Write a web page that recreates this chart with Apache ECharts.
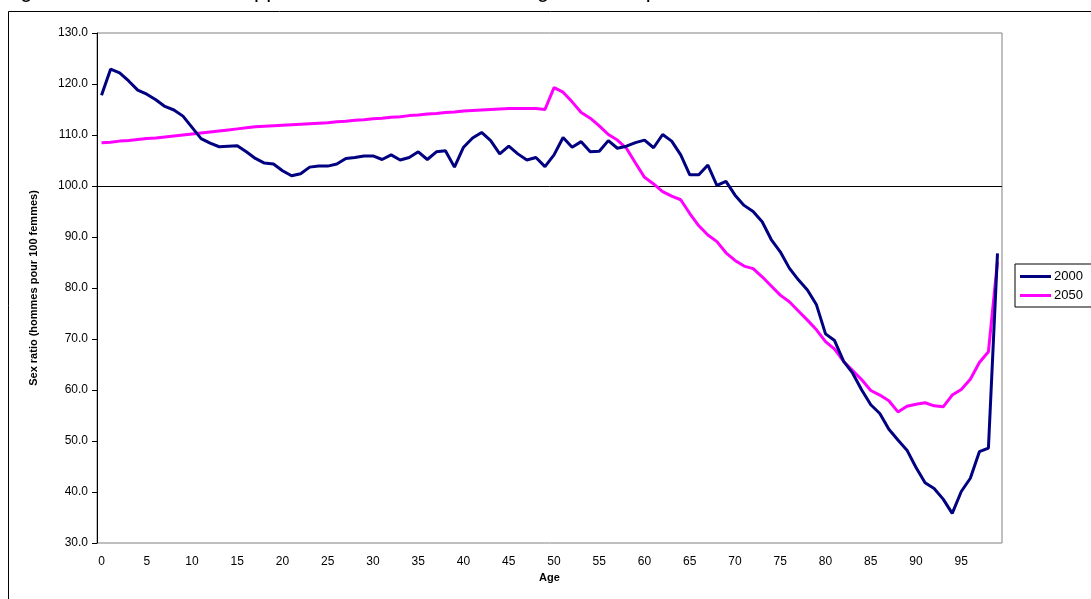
<!DOCTYPE html>
<html>
<head>
<meta charset="utf-8">
<script src="https://cdn.jsdelivr.net/npm/echarts@6/dist/echarts.min.js"></script>
<style>
html,body{margin:0;padding:0;background:#fff;}
#chart{width:1091px;height:599px;}
</style>
</head>
<body>
<div id="chart"></div>
<script>
var titleText = "Figure 3 – Évolution du rapport de masculinité selon l'âge, à deux périodes";
var yAxisName = "Sex ratio (hommes pour 100 femmes)";
var xAxisName = "Age";
var ages = [];
for (var a = 0; a <= 99; a++) ages.push(String(a));

var s2000 = [
117.8,122.9,122.2,120.6,118.8,118.0,116.9,115.6,114.9,113.7,
111.5,109.3,108.4,107.7,107.8,107.9,106.7,105.4,104.5,104.3,
103.0,102.0,102.4,103.7,103.9,103.9,104.3,105.4,105.6,105.9,
105.9,105.2,106.1,105.1,105.6,106.7,105.2,106.7,106.9,103.7,
107.6,109.4,110.5,108.9,106.3,107.8,106.3,105.1,105.6,103.8,
106.1,109.5,107.6,108.7,106.7,106.8,108.9,107.4,107.8,108.5,
109.0,107.5,110.1,108.8,106.1,102.2,102.2,104.1,100.1,100.9,
98.2,96.2,95.0,93.0,89.5,87.1,83.9,81.6,79.6,76.7,
71.0,69.7,65.6,63.3,60.0,57.1,55.4,52.3,50.2,48.2,
44.8,41.8,40.7,38.6,35.8,40.1,42.7,47.9,48.6,86.8
];
var s2050 = [
108.5,108.6,108.8,108.9,109.1,109.3,109.4,109.6,109.8,110.0,
110.2,110.4,110.6,110.8,111.0,111.2,111.4,111.6,111.7,111.8,
111.9,112.0,112.1,112.2,112.3,112.4,112.6,112.7,112.9,113.0,
113.2,113.3,113.5,113.6,113.8,113.9,114.1,114.2,114.4,114.5,
114.7,114.8,114.9,115.0,115.1,115.2,115.2,115.2,115.2,115.0,
119.3,118.4,116.5,114.4,113.3,111.8,110.1,109.0,107.4,104.5,
101.7,100.4,98.9,98.0,97.3,94.6,92.2,90.4,89.1,86.9,
85.4,84.3,83.8,82.2,80.4,78.6,77.3,75.5,73.7,71.8,
69.5,68.0,65.6,63.8,62.0,59.9,59.0,57.9,55.7,56.8,
57.2,57.5,56.9,56.7,59.0,60.1,62.1,65.4,67.5,85.2
];
var seriesNames = ["2000", "2050"];

var splitColors = [];
for (var i = 0; i <= 10; i++) splitColors.push(i === 7 ? '#000000' : 'rgba(0,0,0,0)');

var chart = echarts.init(document.getElementById('chart'), null, {renderer: 'canvas'});
chart.setOption({
  animation: false,
  backgroundColor: '#ffffff',
  textStyle: {fontFamily: 'Liberation Sans, Arial, sans-serif'},
  graphic: [
    {type: 'rect', silent: true, z: -10,
     shape: {x: 8.5, y: 11.5, width: 1200, height: 700},
     style: {fill: 'none', stroke: '#000', lineWidth: 1}},
    {type: 'text', silent: true, left: 2, top: -20,
     style: {text: titleText, font: '22px "Liberation Sans", Arial, sans-serif', fill: '#000'}}
  ],
  grid: {left: 97, top: 33, right: 89, bottom: 56, show: true, borderColor: '#808080', borderWidth: 1, backgroundColor: '#fff'},
  legend: {
    data: seriesNames,
    orient: 'vertical',
    left: 1015, top: 264,
    borderColor: '#000', borderWidth: 1,
    padding: [6, 40, 5, 5],
    itemGap: 6,
    icon: 'rect',
    itemWidth: 31, itemHeight: 3,
    textStyle: {fontSize: 13, color: '#000', padding: [0, 0, 0, -2]}
  },
  xAxis: {
    type: 'category',
    data: ages,
    boundaryGap: true,
    name: xAxisName,
    nameLocation: 'middle',
    nameGap: 29,
    nameTextStyle: {fontWeight: 'bold', fontSize: 11, color: '#000'},
    axisLine: {show: false},
    axisTick: {show: false},
    axisLabel: {interval: 4, fontSize: 12, color: '#000', margin: 13}
  },
  yAxis: {
    type: 'value',
    min: 30, max: 130, interval: 10,
    name: yAxisName,
    nameLocation: 'middle',
    nameGap: 58,
    nameTextStyle: {fontWeight: 'bold', fontSize: 11, color: '#000'},
    axisLine: {show: true, lineStyle: {color: '#000', width: 1}},
    axisTick: {show: true, length: 5, lineStyle: {color: '#000'}},
    axisLabel: {fontSize: 12, color: '#000', margin: 9, formatter: function(v){ return v.toFixed(1); }},
    splitLine: {show: true, lineStyle: {color: splitColors, width: 1}}
  },
  series: [
    {name: seriesNames[0], type: 'line', data: s2000, symbol: 'none',
     lineStyle: {color: '#000080', width: 3}, itemStyle: {color: '#000080'}, z: 3},
    {name: seriesNames[1], type: 'line', data: s2050, symbol: 'none',
     lineStyle: {color: '#FF00FF', width: 3}, itemStyle: {color: '#FF00FF'}, z: 2}
  ]
});
</script>
</body>
</html>
